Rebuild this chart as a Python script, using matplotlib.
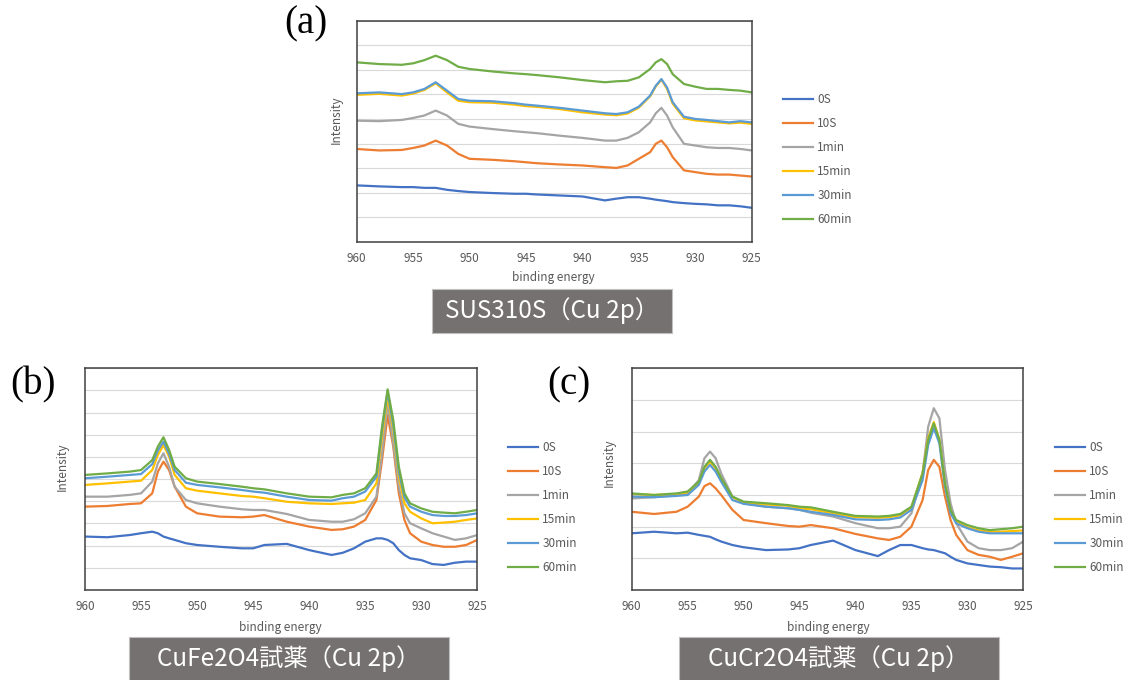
import matplotlib
matplotlib.use("Agg")
import matplotlib.pyplot as plt
from matplotlib.patches import Rectangle

plt.rcParams["font.family"] = ["Noto Sans CJK JP", "DejaVu Sans"]

# --------------------------------------------------------------------------- #
# Data (arbitrary intensity units)
# --------------------------------------------------------------------------- #
SERIES = ["0S", "10S", "1min", "15min", "30min", "60min"]
COLORS = ["#4472C4", "#ED7D31", "#A5A5A5", "#FFC000", "#5B9BD5", "#70AD47"]
XTICKS = [960, 955, 950, 945, 940, 935, 930, 925]

# (a) SUS310S
x_a = [960, 958, 956, 955, 954, 953, 952, 951, 950, 948, 946, 945, 944, 942, 940,
       938, 937, 936, 935, 934, 933.5, 933, 932.5, 932, 931, 930, 929, 928, 927, 926, 925]
a_0s = [2.30, 2.26, 2.23, 2.23, 2.20, 2.20, 2.12, 2.07, 2.03, 1.99, 1.96, 1.96, 1.93, 1.89, 1.85,
        1.69, 1.76, 1.82, 1.82, 1.76, 1.72, 1.69, 1.66, 1.62, 1.58, 1.55, 1.53, 1.49, 1.49, 1.45, 1.39]
a_10s = [3.78, 3.72, 3.74, 3.82, 3.92, 4.12, 3.92, 3.58, 3.38, 3.34, 3.28, 3.24, 3.20, 3.15, 3.11,
         3.04, 3.01, 3.11, 3.38, 3.65, 3.99, 4.12, 3.85, 3.45, 2.91, 2.84, 2.77, 2.74, 2.74, 2.70, 2.66]
a_1min = [4.93, 4.91, 4.96, 5.04, 5.14, 5.34, 5.14, 4.80, 4.69, 4.59, 4.50, 4.46, 4.42, 4.32, 4.23,
          4.12, 4.12, 4.23, 4.46, 4.86, 5.23, 5.45, 5.14, 4.66, 3.99, 3.92, 3.85, 3.82, 3.82, 3.78, 3.72]
a_15min = [5.98, 6.02, 5.95, 6.03, 6.18, 6.45, 6.08, 5.74, 5.68, 5.66, 5.58, 5.52, 5.49, 5.40, 5.27,
           5.18, 5.15, 5.22, 5.46, 5.92, 6.32, 6.60, 6.22, 5.62, 5.03, 4.94, 4.90, 4.86, 4.82, 4.85, 4.80]
a_30min = [6.04, 6.08, 6.01, 6.08, 6.22, 6.49, 6.15, 5.81, 5.74, 5.72, 5.64, 5.58, 5.54, 5.45, 5.34,
           5.23, 5.20, 5.27, 5.50, 5.95, 6.35, 6.62, 6.28, 5.68, 5.09, 5.00, 4.96, 4.91, 4.86, 4.91, 4.86]
a_60min = [7.30, 7.23, 7.20, 7.26, 7.39, 7.57, 7.39, 7.12, 7.03, 6.93, 6.85, 6.82, 6.78, 6.69, 6.58,
           6.49, 6.53, 6.55, 6.69, 7.03, 7.30, 7.43, 7.23, 6.82, 6.42, 6.31, 6.22, 6.22, 6.18, 6.15, 6.08]

# (b) CuFe2O4 and (c) CuCr2O4 share one energy grid
x_bc = [960, 958, 956, 955, 954, 953.5, 953, 952.5, 952, 951, 950, 948, 946, 945, 944, 942, 940,
        938, 937, 936, 935, 934, 933.5, 933, 932.5, 932, 931.5, 931, 930, 929, 928, 927, 926, 925]
b_0s = [2.41, 2.38, 2.48, 2.56, 2.63, 2.56, 2.41, 2.33, 2.26, 2.11, 2.03, 1.95, 1.88, 1.88, 2.03, 2.08, 1.80,
        1.58, 1.68, 1.88, 2.18, 2.33, 2.33, 2.26, 2.11, 1.80, 1.58, 1.43, 1.35, 1.17, 1.13, 1.23, 1.28, 1.28]
b_10s = [3.76, 3.79, 3.88, 3.91, 4.36, 5.34, 5.79, 5.41, 4.66, 3.76, 3.46, 3.31, 3.28, 3.31, 3.38, 3.08, 2.86,
         2.71, 2.74, 2.86, 3.16, 4.06, 5.86, 7.89, 6.47, 4.36, 3.16, 2.56, 2.18, 2.03, 1.95, 1.95, 2.03, 2.26]
b_1min = [4.21, 4.21, 4.29, 4.36, 4.89, 5.71, 6.17, 5.56, 4.66, 4.06, 3.91, 3.76, 3.64, 3.61, 3.61, 3.43, 3.16,
          3.08, 3.08, 3.19, 3.46, 4.21, 6.17, 8.42, 6.62, 4.66, 3.46, 3.01, 2.78, 2.56, 2.41, 2.26, 2.33, 2.48]
b_15min = [4.74, 4.81, 4.89, 4.93, 5.41, 6.09, 6.54, 6.02, 5.19, 4.59, 4.48, 4.36, 4.24, 4.21, 4.14, 3.98, 3.91,
           3.88, 3.91, 3.94, 4.06, 4.81, 6.92, 8.72, 7.22, 5.11, 3.91, 3.53, 3.23, 3.01, 3.04, 3.08, 3.16, 3.23]
b_30min = [5.04, 5.11, 5.19, 5.23, 5.68, 6.29, 6.69, 6.14, 5.41, 4.84, 4.74, 4.63, 4.51, 4.44, 4.39, 4.21, 4.06,
           4.03, 4.14, 4.21, 4.44, 5.11, 7.22, 8.95, 7.44, 5.34, 4.18, 3.76, 3.53, 3.38, 3.34, 3.34, 3.38, 3.46]
b_60min = [5.19, 5.26, 5.34, 5.41, 5.86, 6.47, 6.89, 6.32, 5.56, 5.04, 4.89, 4.78, 4.66, 4.59, 4.54, 4.36, 4.21,
           4.18, 4.29, 4.36, 4.59, 5.26, 7.37, 9.05, 7.67, 5.56, 4.36, 3.91, 3.68, 3.53, 3.49, 3.46, 3.53, 3.61]

c_0s = [1.79, 1.84, 1.79, 1.81, 1.74, 1.71, 1.68, 1.60, 1.53, 1.42, 1.35, 1.26, 1.28, 1.32, 1.42, 1.56, 1.26,
        1.07, 1.26, 1.42, 1.42, 1.32, 1.28, 1.26, 1.21, 1.16, 1.05, 0.95, 0.84, 0.79, 0.74, 0.72, 0.68, 0.68]
c_10s = [2.47, 2.40, 2.47, 2.63, 2.95, 3.28, 3.37, 3.21, 3.00, 2.53, 2.21, 2.11, 2.02, 2.00, 2.05, 1.95, 1.77,
         1.63, 1.58, 1.68, 2.00, 2.84, 3.79, 4.11, 3.89, 2.95, 2.21, 1.74, 1.26, 1.11, 1.05, 0.95, 1.05, 1.16]
c_1min = [2.89, 2.93, 3.00, 3.05, 3.47, 4.16, 4.37, 4.16, 3.68, 2.95, 2.74, 2.63, 2.58, 2.53, 2.44, 2.32, 2.11,
          1.95, 1.95, 2.00, 2.42, 3.68, 5.16, 5.74, 5.42, 3.79, 2.74, 2.11, 1.53, 1.32, 1.26, 1.26, 1.32, 1.53]
c_15min = [3.03, 3.00, 3.03, 3.08, 3.38, 3.84, 4.05, 3.84, 3.50, 2.93, 2.76, 2.70, 2.66, 2.58, 2.55, 2.42, 2.30,
           2.28, 2.30, 2.36, 2.60, 3.70, 4.80, 5.30, 4.75, 3.35, 2.48, 2.16, 1.98, 1.88, 1.84, 1.84, 1.86, 1.88]
c_30min = [2.95, 2.93, 2.97, 3.00, 3.32, 3.74, 3.95, 3.74, 3.42, 2.84, 2.72, 2.63, 2.58, 2.53, 2.47, 2.37, 2.23,
           2.21, 2.23, 2.29, 2.53, 3.47, 4.58, 5.11, 4.63, 3.26, 2.42, 2.11, 1.95, 1.84, 1.79, 1.79, 1.79, 1.79]
c_60min = [3.05, 3.00, 3.05, 3.11, 3.42, 3.89, 4.11, 3.89, 3.53, 2.95, 2.79, 2.74, 2.68, 2.63, 2.61, 2.47, 2.34,
           2.32, 2.34, 2.40, 2.63, 3.68, 4.74, 5.26, 4.74, 3.37, 2.53, 2.21, 2.05, 1.95, 1.89, 1.92, 1.95, 2.00]

TITLES = ["SUS310S（Cu 2p）", "CuFe2O4試薬（Cu 2p）", "CuCr2O4試薬（Cu 2p）"]
LETTERS = ["(a)", "(b)", "(c)"]

# --------------------------------------------------------------------------- #
# Layout, in pixels of the 1134x680 canvas
# --------------------------------------------------------------------------- #
W, H = 1134, 680
panels = [
    dict(x=x_a, ys=[a_0s, a_10s, a_1min, a_15min, a_30min, a_60min], ymax=9,
         rect=(356.7, 20.5, 751.7, 242), legend=(783, 93), box=(432, 289, 672, 333),
         letter=(306, 24), xlab=(553, 278), ylab=(336, 120)),
    dict(x=x_bc, ys=[b_0s, b_10s, b_1min, b_15min, b_30min, b_60min], ymax=10,
         rect=(85, 368.3, 477.3, 590), legend=(508, 441), box=(129, 637, 449, 681),
         letter=(33, 385), xlab=(280, 627), ylab=(62.5, 467)),
    dict(x=x_bc, ys=[c_0s, c_10s, c_1min, c_15min, c_30min, c_60min], ymax=7,
         rect=(631.7, 368.3, 1023.3, 590), legend=(1055, 441), box=(679, 637, 999, 681),
         letter=(569, 385), xlab=(828, 627), ylab=(609.5, 463)),
]

fig = plt.figure(figsize=(W / 100, H / 100), dpi=100)

def fx(px):
    return px / W

def fy(py):
    return 1 - py / H

for p, title, letter in zip(panels, TITLES, LETTERS):
    x0, y0, x1, y1 = p["rect"]
    ax = fig.add_axes([fx(x0), fy(y1), (x1 - x0) / W, (y1 - y0) / H])

    handles = []
    for y, name, col in zip(p["ys"], SERIES, COLORS):
        ln, = ax.plot(p["x"], y, color=col, lw=1.6, label=name, solid_joinstyle="round")
        handles.append(ln)

    ax.set_xlim(960, 925)
    ax.set_ylim(0, p["ymax"])
    ax.set_xticks(XTICKS)
    ax.set_yticks(range(0, p["ymax"] + 1))
    ax.set_yticklabels([])
    ax.grid(axis="y", color="#D9D9D9", lw=0.8)
    ax.set_axisbelow(True)
    ax.tick_params(length=0, labelsize=8.5, labelcolor="#595959", pad=7)
    for s in ax.spines.values():
        s.set_color("#404040")
        s.set_linewidth(1.1)

    fig.text(fx(p["xlab"][0]), fy(p["xlab"][1]), "binding energy", fontsize=8.5,
             color="#595959", ha="center", va="center")
    fig.text(fx(p["ylab"][0]), fy(p["ylab"][1]), "Intensity", fontsize=8.5,
             color="#595959", ha="center", va="center", rotation=90)

    lx, ly = p["legend"]
    fig.legend(handles=handles, loc="upper left", bbox_to_anchor=(fx(lx), fy(ly)),
               frameon=False, fontsize=8.5, labelcolor="#595959", handlelength=2.55,
               handletextpad=0.35, labelspacing=0.93, borderpad=0, borderaxespad=0)

    bx0, by0, bx1, by1 = p["box"]
    fig.patches.append(Rectangle((fx(bx0), fy(by1)), (bx1 - bx0) / W, (by1 - by0) / H,
                                 transform=fig.transFigure, facecolor="#767171",
                                 edgecolor="#BFBFBF", lw=0.8))
    fig.text(fx((bx0 + bx1) / 2), fy((by0 + by1) / 2), title, color="white",
             fontsize=17.5, ha="center", va="center")

    tx, ty = p["letter"]
    fig.text(fx(tx), fy(ty), letter, fontsize=28, family="Liberation Serif",
             ha="center", va="center")

fig.savefig("out.png", dpi=100)
